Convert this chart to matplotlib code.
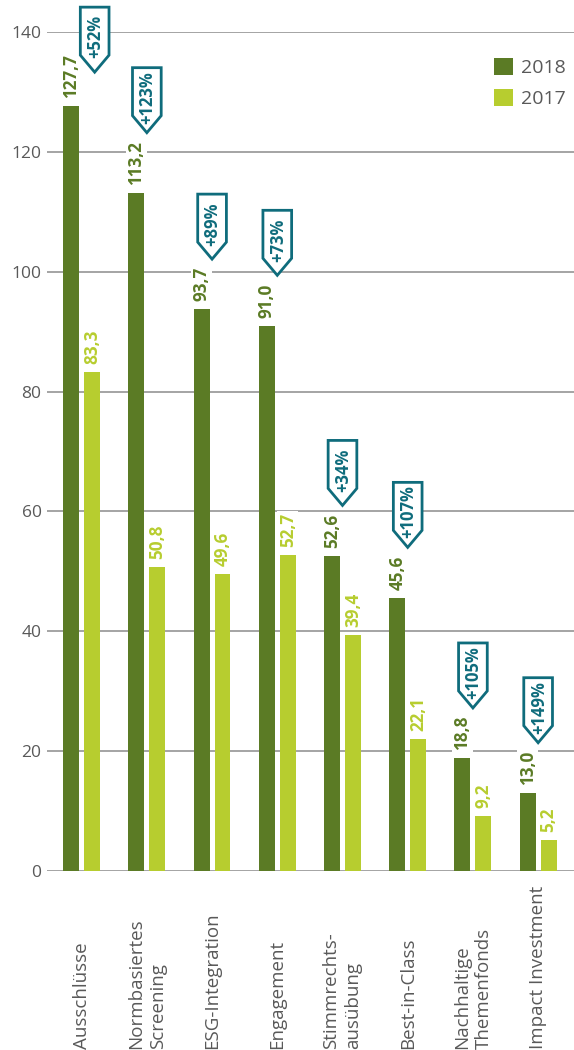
import numpy as np
import matplotlib.pyplot as plt
from matplotlib.patches import Polygon
from matplotlib.transforms import blended_transform_factory

plt.rcParams['font.family'] = ['Open Sans', 'DejaVu Sans']

#Data
categories = ["Ausschlüsse", "Normbasiertes\nScreening", "ESG-Integration", "Engagement",
              "Stimmrechts-\nausübung", "Best-in-Class", "Nachhaltige\nThemenfonds", "Impact Investment"]
vals_2018 = [127.7, 113.2, 93.7, 91.0, 52.6, 45.6, 18.8, 13.0]
vals_2017 = [83.3, 50.8, 49.6, 52.7, 39.4, 22.1, 9.2, 5.2]
growth = ["+52%", "+123%", "+89%", "+73%", "+34%", "+107%", "+105%", "+149%"]
yticks = [0, 20, 40, 60, 80, 100, 120, 140]

dark = '#5b7b25'
light = '#b7cd2f'
teal = '#0f6c7c'
grey = '#595959'

fig = plt.figure(figsize=(5.74, 10.5), dpi=100)
ax = fig.add_axes([0.082, 0.1705, 0.918, 0.799])

x = np.arange(len(categories))
w = 0.245
off = 0.16
b1 = ax.bar(x - off, vals_2018, w, color=dark, label='2018', zorder=2)
b2 = ax.bar(x + off, vals_2017, w, color=light, label='2017', zorder=2)

ax.set_xlim(-0.53, 7.55)
ax.set_ylim(0, 140)
ax.set_yticks(yticks)
ax.set_yticklabels([str(t) for t in yticks], fontsize=12.5, color=grey)
ax.tick_params(axis='y', length=0, pad=4)
ax.set_xticks([])
for s in ax.spines.values():
    s.set_visible(False)
ax.grid(axis='y', color='#8c8c8c', lw=1.1)
ax.set_axisbelow(True)

def fmt(v):
    return ('%.1f' % v).replace('.', ',')

#value labels
for xs, vs, c in [(x - off, vals_2018, dark), (x + off, vals_2017, light)]:
    for xi, v in zip(xs, vs):
        ax.annotate(fmt(v), (xi, v), xytext=(0, 8), textcoords='offset pixels',
                    rotation=90, ha='center', va='bottom', fontsize=12.3, fontweight='bold',
                    color=c, zorder=4,
                    bbox=dict(boxstyle='square,pad=0.1', fc='white', ec='none'))

#growth tags
tw = 0.22  # half width in x units
th = 10.85  # total height in y units
tp = 2.84   # pointed part
for i, (v, g) in enumerate(zip(vals_2018, growth)):
    lbl = fmt(v)
    if i == 0:
        cx = i + 0.2
        tip = v + 5.6
    else:
        cx = i
        tip = v + 8.4 + 1.6 * (len(lbl) - 4)
    top = tip + th
    pts = [(cx - tw, top), (cx + tw, top), (cx + tw, tip + tp), (cx, tip), (cx - tw, tip + tp)]
    ax.add_patch(Polygon(pts, closed=True, fc='white', ec=teal, lw=2, zorder=5,
                         clip_on=False, joinstyle='miter'))
    ax.text(cx + 0.01, tip + 5.9, g, rotation=90, ha='center', va='center', fontsize=12,
            fontweight='bold', color=teal, zorder=6, clip_on=False)

#category labels
trans = blended_transform_factory(ax.transData, fig.transFigure)
for xi, c in zip(x, categories):
    ax.text(xi, 0.0005, c, transform=trans, rotation=90, ha='center', va='bottom',
            fontsize=13.5, color=grey, linespacing=1.3, multialignment='left')

#legend
ax.legend(handles=[b1, b2], loc='upper left', bbox_to_anchor=(494 / 574, 1 - 58 / 1050),
          bbox_transform=fig.transFigure, frameon=False, fontsize=14, labelcolor=grey,
          handlelength=1.0, handleheight=1.0, handletextpad=0.4, labelspacing=0.6,
          borderpad=0, borderaxespad=0)

fig.savefig('out.png', dpi=100)
